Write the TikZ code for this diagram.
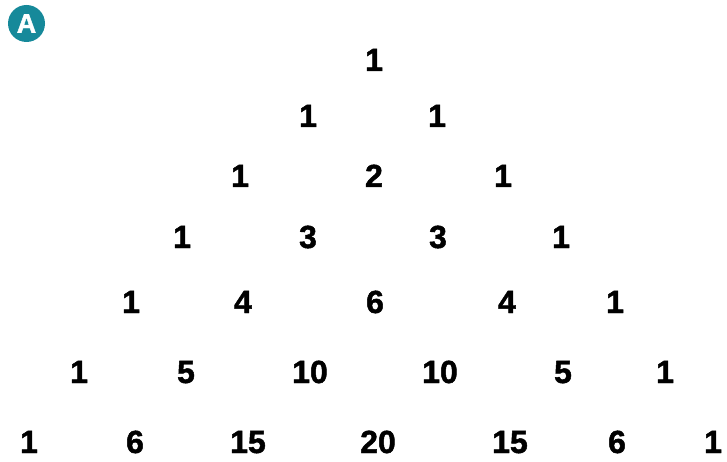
\documentclass[tikz,border=0pt]{standalone}
\usepackage{fontspec}
\setmainfont{Liberation Sans}[BoldFeatures={FakeBold=1.5}]
\definecolor{badgeteal}{HTML}{16899A}
\begin{document}
\begin{tikzpicture}[x=1pt,y=-1pt,
  num/.style={font=\fontsize{32}{36}\selectfont\bfseries, anchor=base, inner sep=0pt},
  badge/.style={circle, fill=badgeteal, text=white, minimum size=37pt, inner sep=0pt,
    font=\fontsize{27}{29}\selectfont\bfseries}]
  \useasboundingbox (0,0) rectangle (727,462);
  % label A
  \node[badge] (label) at (26.5,23.5) {A};

  % Pascal rows, x position / value
  \node[num] (r0c0) at (374,71) {1};
  \foreach \x/\v [count=\i from 0] in {308/1, 437/1}
    \node[num] (r1c\i) at (\x,127) {\v};
  \foreach \x/\v [count=\i from 0] in {240/1, 374/2, 503/1}
    \node[num] (r2c\i) at (\x,187) {\v};
  \foreach \x/\v [count=\i from 0] in {182/1, 308/3, 438/3, 561/1}
    \node[num] (r3c\i) at (\x,248) {\v};
  \foreach \x/\v [count=\i from 0] in {131/1, 243/4, 375/6, 507/4, 615/1}
    \node[num] (r4c\i) at (\x,313) {\v};
  \foreach \x/\v [count=\i from 0] in {79/1, 186/5, 310/10, 440/10, 563/5, 665/1}
    \node[num] (r5c\i) at (\x,383) {\v};
  \foreach \x/\v [count=\i from 0] in {29/1, 135/6, 248/15, 378/20, 510/15, 617/6, 713/1}
    \node[num] (r6c\i) at (\x,453) {\v};
\end{tikzpicture}
\end{document}
